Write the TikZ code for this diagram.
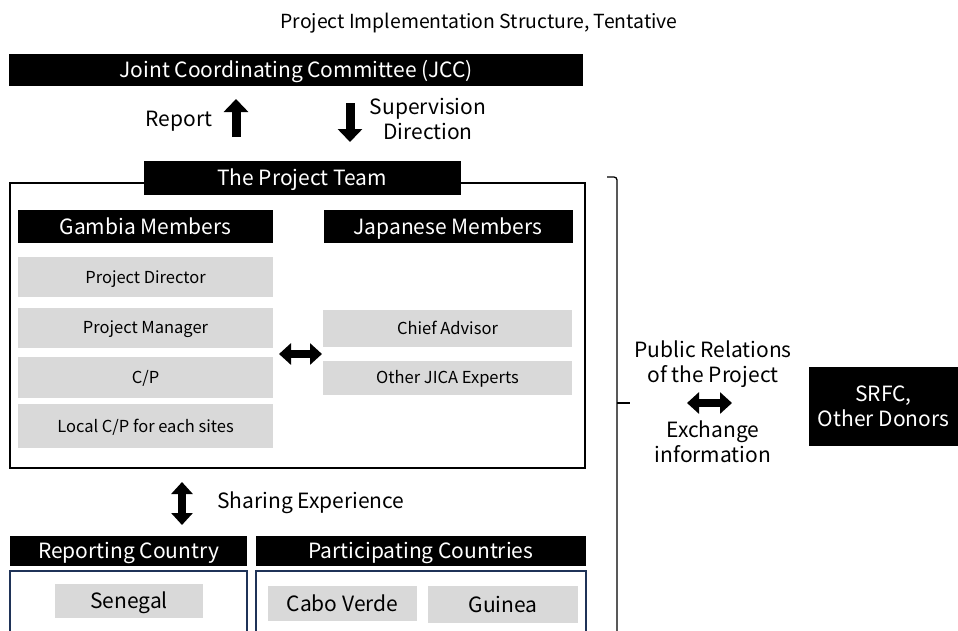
\documentclass[tikz,border=0pt]{standalone}
\usepackage{fontspec}
\setmainfont{Noto Sans CJK JP}
\usetikzlibrary{arrows.meta, positioning}
\definecolor{boxgray}{HTML}{D9D9D9}
\definecolor{framenavy}{HTML}{1F3358}

\begin{document}
\begin{tikzpicture}[x=1pt,y=-1pt]
  \tikzstyle{every node}=[inner sep=0pt,font=\fontsize{21}{25}\selectfont]
  \tikzstyle{head}=[fill=black,text=white,text height=16pt,text depth=1pt]
  \tikzstyle{item}=[fill=boxgray,font=\fontsize{16.5}{20}\selectfont,text height=12.5pt,text depth=0.5pt]
  \tikzstyle{country}=[fill=boxgray,text height=16pt,text depth=1pt]
  \tikzstyle{fat}=[line width=9pt,-{Triangle[length=13pt,width=24pt]}]
  \tikzstyle{fatboth}=[line width=8pt,{Triangle[length=12pt,width=21pt]}-{Triangle[length=12pt,width=21pt]}]

  \useasboundingbox (0,0) rectangle (958,630);

  \node[anchor=base] (title) at (479,28) {\fontsize{19.4}{23}\selectfont Project Implementation Structure, Tentative};
  \node[head,minimum width=574pt,minimum height=32pt] (jcc) at (296,70) {Joint Coordinating Committee (JCC)};

  \node (report) at (179,121) {Report};
  \node[align=center] (supervision) at (428,119) {Supervision\\Direction};
  \coordinate (up0) at (236,137);
  \coordinate (up1) at (236,99);
  \coordinate (dn0) at (350,103);
  \coordinate (dn1) at (350,142);
  \draw[fat] (up0) -- (up1);
  \draw[fat] (dn0) -- (dn1);

  % the project team
  \node[draw,line width=1.5pt,minimum width=575pt,minimum height=285pt] (team) at (297.5,325.5) {};
  \node[head,minimum width=317pt,minimum height=34pt] (teamhead) at (302,178) {The Project Team};

  \node[head,minimum width=255pt,minimum height=33pt] (gambia) at (145.5,226.5) {Gambia Members};
  \node[head,minimum width=249pt,minimum height=33pt] (japan) at (448,226.5) {Japanese Members};

  \node[item,minimum width=255pt,minimum height=40pt] (director) at (145.5,277) {Project Director};
  \node[item,minimum width=255pt,minimum height=40pt] (manager) at (145.5,327.5) {Project Manager};
  \node[item,minimum width=255pt,minimum height=41pt] (cp) at (145.5,377.5) {C/P};
  \node[item,minimum width=255pt,minimum height=44pt] (local) at (145.5,426) {Local C/P for each sites};
  \node[item,minimum width=249pt,minimum height=37pt] (chief) at (447.5,328) {Chief Advisor};
  \node[item,minimum width=249pt,minimum height=34pt] (experts) at (447.5,377.5) {Other JICA Experts};

  \coordinate (mid0) at (279,354);
  \coordinate (mid1) at (322,354);
  \draw[fatboth] (mid0) -- (mid1);

  % countries
  \coordinate (sh0) at (182,482);
  \coordinate (sh1) at (182,525);
  \draw[fatboth] (sh0) -- (sh1);
  \node[anchor=west] (sharing) at (217,503) {Sharing Experience};

  \node[head,minimum width=237pt,minimum height=30pt] (reporting) at (128.5,551) {Reporting Country};
  \node[head,minimum width=330pt,minimum height=30pt] (participating) at (421,551) {Participating Countries};
  \draw[framenavy,line width=1.2pt] (10,640) |- (247,571) -- (247,640);
  \draw[framenavy,line width=1.2pt] (256,640) |- (586,571) -- (586,640);

  \node[country,minimum width=148pt,minimum height=34pt] (senegal) at (129,601) {Senegal};
  \node[country,minimum width=149pt,minimum height=35pt] (cabo) at (342.5,603.5) {Cabo Verde};
  \node[country,minimum width=150pt,minimum height=37pt] (guinea) at (503,604.5) {Guinea};

  % public relations
  \draw[line width=1.3pt,rounded corners=3pt] (607,177) -- (617,177) -- (617,640);
  \draw[line width=1.3pt] (617,403) -- (630,403);
  \node[align=center] (pr) at (713,364.5) {Public Relations\\of the Project};
  \node[align=center] (exchange) at (713,442) {Exchange\\information};
  \coordinate (pr0) at (687,403);
  \coordinate (pr1) at (732,403);
  \draw[fatboth] (pr0) -- (pr1);
  \node[fill=black,text=white,align=center,minimum width=149pt,minimum height=79pt] (srfc) at (883.5,406.5) {SRFC,\\Other Donors};
\end{tikzpicture}
\end{document}
